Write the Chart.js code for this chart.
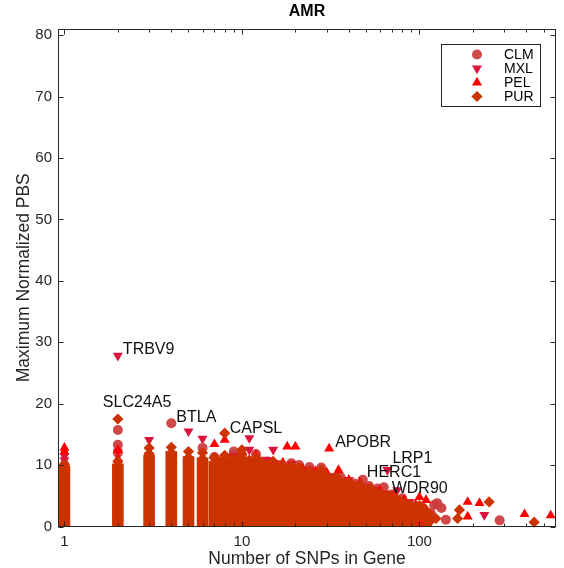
<!DOCTYPE html>
<html><head><meta charset="utf-8">
<script src="https://cdn.jsdelivr.net/npm/chart.js@4.4.1/dist/chart.umd.min.js"></script>
<style>html,body{margin:0;padding:0;background:#fff}canvas{display:block}</style>
</head><body>
<canvas id="c" width="564" height="568"></canvas>
<script>
// ---------- data ----------
const seriesNames = ['CLM', 'MXL', 'PEL', 'PUR'];
const xTickValues = [1, 10, 100];
const yTickValues = [0, 10, 20, 30, 40, 50, 60, 70, 80];

// CLM (circles)
const clmX = [1, 2, 2, 2, 3, 4, 4, 6, 7, 9, 9, 10, 12, 14, 16, 19, 21, 24, 28, 36, 43, 48, 52, 58, 63, 70, 80, 88, 105, 116, 121, 126, 133, 141, 283];
const clmY = [10.0, 15.7, 13.3, 12.0, 11.0, 16.8, 10.4, 12.8, 11.3, 12.2, 11.6, 11.5, 11.8, 10.6, 10.0, 10.3, 10.0, 9.7, 9.6, 8.0, 7.0, 7.6, 6.6, 6.2, 6.4, 5.2, 4.6, 2.7, 3.0, 2.1, 3.5, 3.8, 3.0, 1.1, 1.0];

// MXL (down triangles)
const mxlX = [1, 1, 2, 2, 3, 3, 3, 4, 5, 6, 9, 11, 11, 13, 14, 15, 19, 24, 33, 38, 40, 50, 56, 64, 66, 75, 88, 232];
const mxlY = [11.5, 10.8, 27.8, 12.2, 14.1, 11.6, 11.1, 9.6, 15.5, 14.3, 11.4, 14.4, 12.5, 10.9, 10.8, 12.5, 10.2, 9.3, 8.2, 7.0, 7.6, 6.4, 6.0, 5.4, 9.2, 5.9, 4.0, 1.9];

// PEL (up triangles)
const pelX = [1, 1, 2, 2, 2, 5, 7, 8, 8, 8, 12, 16, 17, 18, 20, 22, 26, 30, 31, 35, 40, 44, 46, 53, 60, 72, 82, 95, 100, 109, 187, 187, 218, 391, 549];
const pelY = [12.8, 12.2, 12.5, 11.0, 10.3, 10.9, 13.4, 11.4, 14.1, 11.2, 11.6, 9.7, 10.4, 13.0, 13.0, 9.4, 9.0, 8.8, 12.7, 9.2, 7.6, 6.2, 7.2, 5.9, 5.8, 5.2, 4.3, 3.6, 4.8, 4.3, 4.0, 1.6, 3.8, 2.0, 1.8];

// PUR (diamonds): highest points of each column and the outliers
const purX = [1, 1, 2, 2, 3, 3, 4, 4, 5, 5, 6, 6, 7, 8, 10, 68, 92, 100, 124, 164, 168, 247, 443];
const purY = [10.1, 9.4, 10.6, 17.5, 12.8, 11.8, 12.9, 12.0, 12.2, 11.2, 12.0, 11.0, 11.2, 15.2, 12.5, 5.0, 1.9, 2.7, 1.3, 1.3, 2.7, 4.0, 0.7];

// solid PUR piles of genes with 1..7 SNPs (pile height)
const pileX   = [1, 2, 3, 4, 5, 6, 7];
const pileTop = [9.8, 10.2, 11.6, 12.2, 11.4, 11.2, 10.6];

// upper edge of the solid PUR mass for genes with 7+ SNPs
const bodyX   = [7, 8, 9, 10, 11, 12, 13, 14, 15, 16, 17, 18, 19, 20, 21, 22, 24, 26, 28, 30, 32, 34, 36, 38, 40, 43, 46, 50, 53, 56, 60, 64, 68, 72, 77, 82, 88, 95, 100, 107, 113, 118];
const bodyTop = [11.2, 11.6, 11.0, 11.8, 10.8, 11.2, 10.4, 10.0, 10.6, 9.6, 10.0, 9.4, 9.8, 9.2, 9.6, 8.8, 9.0, 8.4, 9.2, 8.2, 7.8, 8.0, 7.4, 7.0, 7.2, 6.6, 6.8, 6.0, 6.2, 5.6, 5.4, 5.0, 4.6, 4.8, 4.2, 3.8, 3.6, 3.2, 3.4, 2.8, 2.2, 1.2];

// labelled genes (point they belong to)
const geneNames = ['TRBV9', 'SLC24A5', 'BTLA', 'CAPSL', 'APOBR', 'LRP1', 'HERC1', 'WDR90'];
const geneX     = [2, 2, 4, 8, 31, 66, 48, 68];
const geneY     = [27.8, 17.5, 16.8, 15.2, 12.7, 9.2, 7.6, 5.0];

// ---------- styling ----------
const COLORS = { CLM: 'rgba(204,58,58,0.92)', MXL: '#dc143c', PEL: '#ff0000', PUR: '#cc3300' };
const labelOffsets = [[5, -6], [-15, -16], [5, -6], [5, -5], [6, -6], [5, -11], [4, -7], [2, -7]];
const FONT = '"Liberation Sans", Arial, Helvetica, sans-serif';
const AX = '#262626';

const pts = (xs, ys) => xs.map((x, i) => ({ x: x, y: ys[i] }));

const datasets = [
  { label: 'CLM', data: pts(clmX, clmY), pointStyle: 'circle', pointRadius: 5,
    backgroundColor: COLORS.CLM, pointBorderWidth: 0, order: 5, clip: false },
  { label: 'MXL', data: pts(mxlX, mxlY), pointStyle: 'triangle', rotation: 180, pointRadius: 5.8,
    backgroundColor: COLORS.MXL, pointBorderWidth: 0, order: 4, clip: false },
  { label: 'PEL', data: pts(pelX, pelY), pointStyle: 'triangle', pointRadius: 5.8,
    backgroundColor: COLORS.PEL, pointBorderWidth: 0, order: 3, clip: false },
  { label: 'PURpiles', type: 'bar', data: pts(pileX, pileTop), barThickness: 11,
    backgroundColor: COLORS.PUR, borderWidth: 0, order: 2, clip: false },
  { label: 'PURbody', type: 'line', data: pts(bodyX, bodyTop), showLine: true, fill: 'origin',
    backgroundColor: COLORS.PUR, borderWidth: 0, pointRadius: 0, tension: 0, order: 2, clip: false },
  { label: 'PUR', data: pts(purX.concat(bodyX), purY.concat(bodyTop)), pointStyle: 'rectRot', pointRadius: 5.6,
    backgroundColor: COLORS.PUR, pointBorderWidth: 0, order: 1, clip: false }
];

const decor = {
  id: 'decor',
  afterDatasetsDraw(chart) {
    const { ctx, chartArea: a, scales } = chart;
    const xs = scales.x, ys = scales.y;
    const L = Math.round(a.left) + 0.5, R = Math.round(a.right) - 0.5;
    const T = Math.round(a.top) + 0.5, B = Math.round(a.bottom) - 0.5;
    ctx.save();
    // gene labels
    ctx.fillStyle = '#111';
    ctx.font = '16px ' + FONT;
    ctx.textAlign = 'left'; ctx.textBaseline = 'middle';
    geneNames.forEach((g, i) => {
      const px = xs.getPixelForValue(geneX[i]), py = ys.getPixelForValue(geneY[i]);
      ctx.fillText(g, px + labelOffsets[i][0], py + labelOffsets[i][1]);
    });
    // box
    ctx.strokeStyle = AX; ctx.lineWidth = 1;
    ctx.strokeRect(L, T, R - L, B - T);
    // y ticks
    ctx.beginPath();
    yTickValues.forEach(v => {
      const p = Math.round(ys.getPixelForValue(v)) + 0.5;
      ctx.moveTo(L, p); ctx.lineTo(L + 5, p);
      ctx.moveTo(R, p); ctx.lineTo(R - 5, p);
    });
    // x ticks major + minor
    [1, 10, 100].forEach(d => {
      for (let k = 1; k <= 9; k++) {
        const v = d * k;
        if (v < xs.min || v > xs.max) continue;
        const p = Math.round(xs.getPixelForValue(v)) + 0.5;
        const len = k === 1 ? 5 : 3;
        ctx.moveTo(p, B); ctx.lineTo(p, B - len);
        ctx.moveTo(p, T); ctx.lineTo(p, T + len);
      }
    });
    ctx.stroke();
    // legend
    const lx = 441.5, ly = 44.5, lw = 99, lh = 62;
    ctx.fillStyle = '#fff';
    ctx.fillRect(lx, ly, lw, lh);
    ctx.strokeStyle = AX; ctx.strokeRect(lx, ly, lw, lh);
    const styles = [['circle', 0, 5], ['triangle', 180, 5.8], ['triangle', 0, 5.8], ['rectRot', 0, 5.6]];
    ctx.font = '14px ' + FONT; ctx.textBaseline = 'middle'; ctx.textAlign = 'left';
    seriesNames.forEach((n, i) => {
      const yy = 54.5 + i * 14;
      ctx.fillStyle = COLORS[n];
      Chart.helpers.drawPoint(ctx, { pointStyle: styles[i][0], rotation: styles[i][1], radius: styles[i][2], borderWidth: 0 }, 477, yy);
      ctx.fillStyle = '#000';
      ctx.fillText(n, 504, yy + 0.5);
    });
    // title
    ctx.fillStyle = '#000';
    ctx.font = 'bold 16px ' + FONT; ctx.textAlign = 'center'; ctx.textBaseline = 'middle';
    ctx.fillText('AMR', (a.left + a.right) / 2, 12);
    // axis titles
    ctx.fillStyle = AX;
    ctx.font = '17.5px ' + FONT; ctx.textBaseline = 'alphabetic';
    ctx.fillText('Number of SNPs in Gene', (a.left + a.right) / 2, 564);
    ctx.translate(29, (a.top + a.bottom) / 2);
    ctx.rotate(-Math.PI / 2);
    ctx.fillText('Maximum Normalized PBS', 0, 0);
    ctx.restore();
  }
};

new Chart(document.getElementById('c'), {
  type: 'scatter',
  data: { datasets: datasets },
  options: {
    responsive: false,
    animation: false,
    events: [],
    layout: { padding: { top: 29, right: 8, left: 0, bottom: 0 } },
    scales: {
      x: {
        type: 'logarithmic', min: 0.92, max: 588, offset: false,
        afterFit(s) { s.height = 41.5; },
        afterBuildTicks(s) { s.ticks = xTickValues.map(v => ({ value: v })); },
        grid: { display: false, drawTicks: false, offset: false }, border: { display: false },
        ticks: { color: AX, font: { family: FONT, size: 15 }, padding: 6, maxRotation: 0, autoSkip: false,
                 callback: v => String(v) }
      },
      y: {
        min: 0, max: 81,
        afterFit(s) { s.width = 58; },
        afterBuildTicks(s) { s.ticks = yTickValues.map(v => ({ value: v })); },
        grid: { display: false, drawTicks: false }, border: { display: false },
        ticks: { color: AX, font: { family: FONT, size: 15 }, padding: 6, callback: v => String(v) }
      }
    },
    plugins: { legend: { display: false }, tooltip: { enabled: false }, title: { display: false } }
  },
  plugins: [decor]
});
</script>
</body></html>
